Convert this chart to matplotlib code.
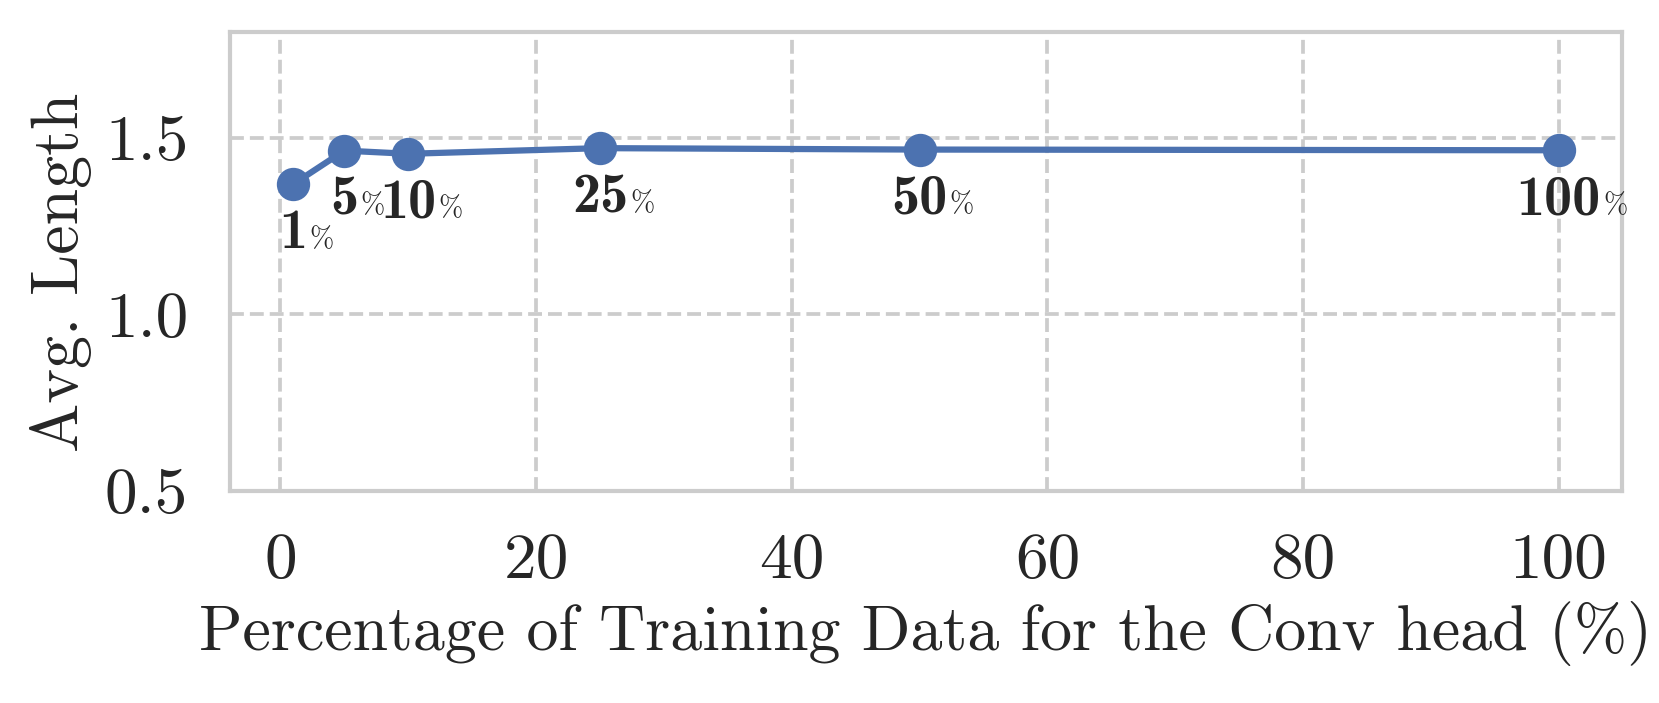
import matplotlib
matplotlib.use("Agg")
import matplotlib.pyplot as plt

# Data
pct = [1, 5, 10, 25, 50, 100]
avg_len = [1.369, 1.464, 1.455, 1.471, 1.467, 1.465]
labels = ["1", "5", "10", "25", "50", "100"]
xticks = [0, 20, 40, 60, 80, 100]
yticks = [0.5, 1.0, 1.5]

plt.rcParams["font.family"] = "cmr10"
plt.rcParams["mathtext.fontset"] = "cm"
plt.rcParams["axes.unicode_minus"] = False

fig = plt.figure(figsize=(1659 / 300, 703 / 300), dpi=300)
ax = fig.add_axes([0.1386, 0.3016, 0.9777 - 0.1386, 0.9545 - 0.3016])

color = "#4C72B0"
ax.plot(pct, avg_len, color=color, lw=1.5, marker="o", markersize=7, zorder=3)

for x, y, lab in zip(pct, avg_len, labels):
    t = ax.annotate(lab, xy=(x, y), xytext=(0, -6),
                    textcoords="offset points", ha="center", va="top",
                    fontsize=13.5, fontfamily="cmb10", color="#262626", zorder=4)
    ax.annotate("%", xy=(1, 0), xycoords=t, xytext=(0.5, 1.5),
                textcoords="offset points", ha="left", va="bottom",
                fontsize=7, fontfamily="cmr10", color="#262626", zorder=4)

ax.set_xlim(-3.95, 104.95)
ax.set_ylim(0.5, 1.8)
ax.set_xticks(xticks)
ax.set_yticks(yticks)
ax.set_xticklabels([str(v) for v in xticks])
ax.set_yticklabels(["%.1f" % v for v in yticks])

ax.grid(True, color="#cccccc", linestyle="--", linewidth=0.9)
ax.set_axisbelow(True)
for s in ax.spines.values():
    s.set_color("#cccccc")
    s.set_linewidth(1.0)
ax.tick_params(axis="both", length=0, pad=10, labelsize=15.7, colors="#262626")

ax.set_xlabel("Percentage of Training Data for the Conv head (%)", fontsize=15.35,
              color="#262626", labelpad=2.5)
ax.set_ylabel("Avg. Length", fontsize=15.8, color="#262626", labelpad=3)
ax.yaxis.label.set_y(0.477)

fig.savefig("out.png", dpi=300)
